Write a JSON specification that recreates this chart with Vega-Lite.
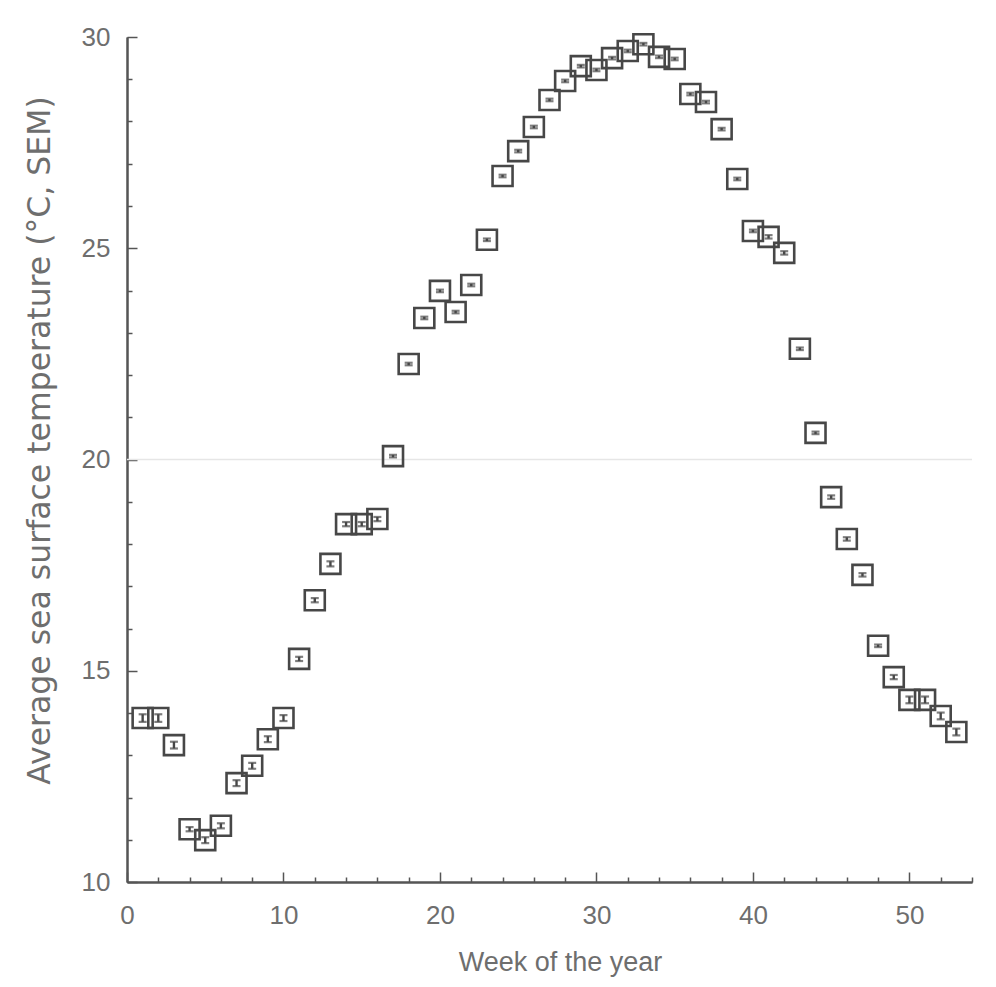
{
  "$schema": "https://vega.github.io/schema/vega-lite/v6.json",
  "autosize": "none",
  "width": 845,
  "height": 845,
  "padding": {"left": 127, "top": 37, "right": 24, "bottom": 105},
  "background": "white",
  "config": {
    "view": {"stroke": null},
    "axis": {"labelOverlap": false, "labelFlush": false, "labelBound": false, "grid": false}
  },
  "resolve": {"axis": {"x": "independent", "y": "independent"}},
  "data": {"values": [
    {"week": 1, "temp": 13.88, "sem": 0.09},
    {"week": 2, "temp": 13.88, "sem": 0.09},
    {"week": 3, "temp": 13.24, "sem": 0.08},
    {"week": 4, "temp": 11.25, "sem": 0.05},
    {"week": 5, "temp": 10.99, "sem": 0.07},
    {"week": 6, "temp": 11.33, "sem": 0.06},
    {"week": 7, "temp": 12.34, "sem": 0.07},
    {"week": 8, "temp": 12.75, "sem": 0.07},
    {"week": 9, "temp": 13.38, "sem": 0.07},
    {"week": 10, "temp": 13.88, "sem": 0.07},
    {"week": 11, "temp": 15.28, "sem": 0.05},
    {"week": 12, "temp": 16.67, "sem": 0.05},
    {"week": 13, "temp": 17.53, "sem": 0.06},
    {"week": 14, "temp": 18.47, "sem": 0.05},
    {"week": 15, "temp": 18.47, "sem": 0.05},
    {"week": 16, "temp": 18.59, "sem": 0.05},
    {"week": 17, "temp": 20.08, "sem": 0.03},
    {"week": 18, "temp": 22.26, "sem": 0.03},
    {"week": 19, "temp": 23.35, "sem": 0.03},
    {"week": 20, "temp": 23.99, "sem": 0.03},
    {"week": 21, "temp": 23.49, "sem": 0.03},
    {"week": 22, "temp": 24.13, "sem": 0.03},
    {"week": 23, "temp": 25.2, "sem": 0.03},
    {"week": 24, "temp": 26.71, "sem": 0.03},
    {"week": 25, "temp": 27.3, "sem": 0.03},
    {"week": 26, "temp": 27.87, "sem": 0.03},
    {"week": 27, "temp": 28.51, "sem": 0.03},
    {"week": 28, "temp": 28.96, "sem": 0.03},
    {"week": 29, "temp": 29.31, "sem": 0.03},
    {"week": 30, "temp": 29.22, "sem": 0.03},
    {"week": 31, "temp": 29.5, "sem": 0.03},
    {"week": 32, "temp": 29.67, "sem": 0.03},
    {"week": 33, "temp": 29.83, "sem": 0.03},
    {"week": 34, "temp": 29.53, "sem": 0.03},
    {"week": 35, "temp": 29.48, "sem": 0.03},
    {"week": 36, "temp": 28.65, "sem": 0.03},
    {"week": 37, "temp": 28.46, "sem": 0.03},
    {"week": 38, "temp": 27.82, "sem": 0.03},
    {"week": 39, "temp": 26.64, "sem": 0.03},
    {"week": 40, "temp": 25.41, "sem": 0.03},
    {"week": 41, "temp": 25.27, "sem": 0.04},
    {"week": 42, "temp": 24.89, "sem": 0.04},
    {"week": 43, "temp": 22.62, "sem": 0.03},
    {"week": 44, "temp": 20.63, "sem": 0.03},
    {"week": 45, "temp": 19.11, "sem": 0.04},
    {"week": 46, "temp": 18.12, "sem": 0.04},
    {"week": 47, "temp": 17.27, "sem": 0.04},
    {"week": 48, "temp": 15.59, "sem": 0.03},
    {"week": 49, "temp": 14.85, "sem": 0.05},
    {"week": 50, "temp": 14.31, "sem": 0.08},
    {"week": 51, "temp": 14.31, "sem": 0.08},
    {"week": 52, "temp": 13.93, "sem": 0.08},
    {"week": 53, "temp": 13.55, "sem": 0.08}
  ]},
  "transform": [
    {"calculate": "datum.temp - datum.sem", "as": "lo"},
    {"calculate": "datum.temp + datum.sem", "as": "hi"}
  ],
  "layer": [
    {
      "data": {"values": [{"ref": 20}]},
      "mark": {"type": "rule", "color": "#e6e6e6", "strokeWidth": 1.5},
      "encoding": {
        "y": {"field": "ref", "type": "quantitative", "scale": {"domain": [10, 30]}, "axis": null}
      }
    },
    {
      "mark": {"type": "point", "shape": "square", "size": 400, "filled": false, "stroke": "#474747", "strokeWidth": 2.6, "opacity": 1},
      "encoding": {
        "x": {
          "field": "week", "type": "quantitative",
          "scale": {"domain": [0, 54], "nice": false, "zero": false},
          "axis": {
            "orient": "bottom",
            "title": "Week of the year",
            "values": [0, 10, 20, 30, 40, 50],
            "domainColor": "#555555", "domainWidth": 2,
            "tickColor": "#555555", "tickWidth": 1.5, "tickSize": -10,
            "labelPadding": 30,
            "labelFont": "Liberation Sans", "labelFontSize": 26, "labelColor": "#6e6e6e",
            "titleFont": "Liberation Sans", "titleFontSize": 27, "titleFontWeight": "normal", "titleColor": "#6e6e6e",
            "titlePadding": 21, "titleX": 433
          }
        },
        "y": {
          "field": "temp", "type": "quantitative",
          "scale": {"domain": [10, 30], "nice": false, "zero": false},
          "axis": {
            "orient": "left",
            "title": "Average sea surface temperature (°C, SEM)",
            "values": [10, 15, 20, 25, 30],
            "domainColor": "#555555", "domainWidth": 2,
            "tickColor": "#555555", "tickWidth": 1.5, "tickSize": -10,
            "labelPadding": 27,
            "labelFont": "Liberation Sans", "labelFontSize": 26, "labelColor": "#6e6e6e",
            "titleFont": "DejaVu Sans", "titleFontSize": 31.5, "titleFontWeight": "normal", "titleColor": "#6e6e6e",
            "titlePadding": 25, "titleY": 403
          }
        }
      }
    },
    {
      "mark": {"type": "rule", "color": "#474747", "strokeWidth": 2.4},
      "encoding": {
        "x": {
          "field": "week", "type": "quantitative",
          "axis": {
            "orient": "bottom", "title": null, "labels": false,
            "values": [2,4,6,8,12,14,16,18,22,24,26,28,32,34,36,38,42,44,46,48,52,54],
            "domainColor": "#555555", "domainWidth": 2,
            "tickColor": "#555555", "tickWidth": 1.5, "tickSize": -5
          }
        },
        "y": {
          "field": "lo", "type": "quantitative",
          "axis": {
            "orient": "left", "title": null, "labels": false,
            "values": [11,12,13,14,16,17,18,19,21,22,23,24,26,27,28,29],
            "domainColor": "#555555", "domainWidth": 2,
            "tickColor": "#555555", "tickWidth": 1.5, "tickSize": -5
          }
        },
        "y2": {"field": "hi"}
      }
    },
    {
      "transform": [{"fold": ["lo", "hi"], "as": ["end", "endv"]}],
      "mark": {"type": "tick", "orient": "horizontal", "color": "#474747", "size": 8, "thickness": 2.2},
      "encoding": {
        "x": {"field": "week", "type": "quantitative", "axis": null},
        "y": {"field": "endv", "type": "quantitative", "axis": null}
      }
    }
  ]
}
